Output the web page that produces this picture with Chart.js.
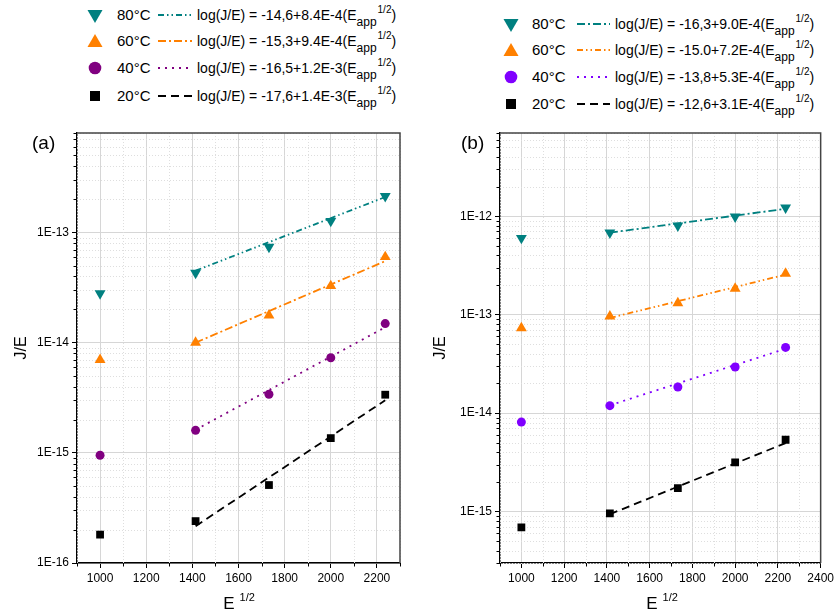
<!DOCTYPE html>
<html>
<head>
<meta charset="utf-8">
<script src="https://cdn.jsdelivr.net/npm/chart.js@4.4.0/dist/chart.umd.min.js"></script>
<style>
  body { margin: 0; background: #fff; font-family: "Liberation Sans", Arial, sans-serif; }
  #page { position: relative; width: 837px; height: 616px; overflow: hidden; background: #fff; }
  .panel { position: absolute; top: 100px; height: 516px; }
  .abs { position: absolute; white-space: nowrap; color: #000; }
  .txt { font-size: 15px; line-height: 20px; height: 20px; }
  .eq { font-size: 14px; line-height: 20px; height: 20px; }
  .sub { font-size: 12px; position: relative; top: 6px; }
  .sup { font-size: 10px; position: relative; top: -7px; margin-left: 1px; }
  .tag { font-size: 19px; line-height: 20px; }
  .xtitle { font-size: 17px; line-height: 20px; width: 100px; text-align: center; }
  .xtitle span { font-size: 11px; position: relative; top: -8px; margin-left: 5px; }
</style>
</head>
<body>
<div id="page">
  <div id="legendA"></div>
  <div id="legendB"></div>
  <div class="panel" style="left:0;width:418px;"><canvas id="chartA"></canvas></div>
  <div class="panel" style="left:418px;width:419px;"><canvas id="chartB"></canvas></div>
  <div class="abs tag" style="left:32px;top:133px;">(a)</div>
  <div class="abs tag" style="left:461px;top:133px;">(b)</div>
  <div class="abs xtitle" style="left:189px;top:594px;">E<span>1/2</span></div>
  <div class="abs xtitle" style="left:612px;top:594px;">E<span>1/2</span></div>
</div>
<script>
// valores
const xValues = [1000, 1414, 1732, 2000, 2236];
const fitX = [1414, 2236];
const seriesNames = ["80°C", "60°C", "40°C", "20°C"];

// painel (a)
const a80 = [2.8e-14, 4.3e-14, 7.4e-14, 1.27e-13, 2.14e-13];
const a60 = [7.0e-15, 1.0e-14, 1.77e-14, 3.27e-14, 6.0e-14];
const a40 = [9.5e-16, 1.6e-15, 3.4e-15, 7.3e-15, 1.49e-14];
const a20 = [1.81e-16, 2.4e-16, 5.1e-16, 1.36e-15, 3.37e-15];
const aFit80 = [4.5e-14, 2.1e-13];
const aFit60 = [1.0e-14, 5.5e-14];
const aFit40 = [1.62e-15, 1.38e-14];
const aFit20 = [2.16e-16, 3.0e-15];
const aEquations = ["-14,6+8.4E-4", "-15,3+9.4E-4", "-16,5+1.2E-3", "-17,6+1.4E-3"];
const aYTicks = [1e-16, 1e-15, 1e-14, 1e-13];
const aYLabels = ["1E-16", "1E-15", "1E-14", "1E-13"];
const aXTicks = [1000, 1200, 1400, 1600, 1800, 2000, 2200];

// painel (b)
const b80 = [6.0e-13, 6.8e-13, 8.0e-13, 9.9e-13, 1.22e-12];
const b60 = [7.3e-14, 9.6e-14, 1.31e-13, 1.84e-13, 2.61e-13];
const b40 = [8.1e-15, 1.19e-14, 1.84e-14, 2.94e-14, 4.65e-14];
const b20 = [6.9e-16, 9.6e-16, 1.73e-15, 3.15e-15, 5.36e-15];
const bFit80 = [6.8e-13, 1.19e-12];
const bFit60 = [9.25e-14, 2.55e-13];
const bFit40 = [1.2e-14, 4.5e-14];
const bFit20 = [9.4e-16, 4.96e-15];
const bEquations = ["-16,3+9.0E-4", "-15.0+7.2E-4", "-13,8+5.3E-4", "-12,6+3.1E-4"];
const bYTicks = [1e-15, 1e-14, 1e-13, 1e-12];
const bYLabels = ["1E-15", "1E-14", "1E-13", "1E-12"];
const bXTicks = [1000, 1200, 1400, 1600, 1800, 2000, 2200, 2400];

const FONT = '"Liberation Sans", Arial, sans-serif';
Chart.defaults.font.family = FONT;

const DASH = {
  dashDotDot: [6, 3, 1.5, 3, 1.5, 3],
  dashDot: [8, 3, 2, 3],
  dot: [2, 5],
  dash: [8, 5],
};
const MARKERS = [
  { style: "triangle", rotation: 180, radius: 6.3 },
  { style: "triangle", rotation: 0, radius: 6.3 },
  { style: "circle", rotation: 0, radius: 4.5 },
  { style: "rect", rotation: 0, radius: 5.5 },
];

// grade menor pontilhada, ticks menores e moldura
const frameAndMinor = {
  id: "frameAndMinor",
  beforeDatasetsDraw(chart) {
    const { ctx, chartArea: ca, scales: { x, y } } = chart;
    ctx.save();
    ctx.strokeStyle = "#dedede";
    ctx.lineWidth = 1;
    ctx.setLineDash([1, 2]);
    minorY(y).forEach((v) => {
      const p = Math.round(y.getPixelForValue(v)) + 0.5;
      ctx.beginPath(); ctx.moveTo(ca.left, p); ctx.lineTo(ca.right, p); ctx.stroke();
    });
    minorX(x).forEach((v) => {
      const p = Math.round(x.getPixelForValue(v)) + 0.5;
      ctx.beginPath(); ctx.moveTo(p, ca.top); ctx.lineTo(p, ca.bottom); ctx.stroke();
    });
    ctx.restore();
  },
  afterDraw(chart) {
    const { ctx, chartArea: ca, scales: { x, y } } = chart;
    ctx.save();
    ctx.strokeStyle = "#000";
    ctx.lineWidth = 1;
    minorY(y).forEach((v) => {
      const p = Math.round(y.getPixelForValue(v)) + 0.5;
      ctx.beginPath(); ctx.moveTo(ca.left - 3.5, p); ctx.lineTo(ca.left, p); ctx.stroke();
    });
    minorX(x).forEach((v) => {
      const p = Math.round(x.getPixelForValue(v)) + 0.5;
      ctx.beginPath(); ctx.moveTo(p, ca.bottom); ctx.lineTo(p, ca.bottom + 3.5); ctx.stroke();
    });
    ctx.strokeStyle = "#444";
    ctx.lineWidth = 1.5;
    ctx.beginPath();
    ctx.moveTo(ca.left, ca.top);
    ctx.lineTo(ca.right, ca.top);
    ctx.lineTo(ca.right, ca.bottom);
    ctx.stroke();
    ctx.restore();
  },
};

function minorY(scale) {
  const out = [];
  for (let e = Math.floor(Math.log10(scale.min)); e <= Math.floor(Math.log10(scale.max)); e++) {
    for (let m = 2; m <= 9; m++) {
      const v = m * Math.pow(10, e);
      if (v >= scale.min * 0.999 && v <= scale.max * 1.001) out.push(v);
    }
  }
  return out;
}

function minorX(scale) {
  const out = [];
  for (let v = Math.ceil(scale.min / 100) * 100; v <= scale.max; v += 100) {
    if (v % 200 !== 0) out.push(v);
  }
  return out;
}

function makeChart(canvasId, cfg) {
  const datasets = [];
  cfg.series.forEach((vals, i) => {
    datasets.push({
      label: seriesNames[i],
      data: xValues.map((x, j) => ({ x: x, y: vals[j] })),
      showLine: false,
      pointStyle: MARKERS[i].style,
      pointRotation: MARKERS[i].rotation,
      pointRadius: MARKERS[i].radius,
      pointHoverRadius: MARKERS[i].radius,
      backgroundColor: cfg.colors[i],
      borderColor: cfg.colors[i],
      pointBorderWidth: 0,
      order: 0,
    });
  });
  cfg.fits.forEach((vals, i) => {
    datasets.push({
      label: "fit " + seriesNames[i],
      data: fitX.map((x, j) => ({ x: x, y: vals[j] })),
      showLine: true,
      pointRadius: 0,
      borderColor: cfg.colors[i],
      borderWidth: 1.8,
      borderDash: cfg.dashes[i],
      fill: false,
      order: 1,
    });
  });

  new Chart(document.getElementById(canvasId), {
    type: "scatter",
    data: { datasets: datasets },
    options: {
      responsive: true,
      maintainAspectRatio: false,
      animation: false,
      layout: { padding: { top: 33, right: cfg.padRight, left: 0, bottom: 0 } },
      plugins: { legend: { display: false }, tooltip: { enabled: false } },
      scales: {
        x: {
          type: "linear",
          min: cfg.xMin,
          max: cfg.xMax,
          afterBuildTicks: (s) => { s.ticks = cfg.xTicks.map((v) => ({ value: v })); },
          afterFit: (s) => { s.height = 53; },
          grid: { color: "#d6d6d6", lineWidth: 1, drawTicks: true, tickLength: 5, tickColor: "#000", tickWidth: 1 },
          border: { color: "#000", width: 1.5 },
          ticks: {
            color: "#000", font: { size: 12 }, padding: 3,
            maxRotation: 0, autoSkip: false,
            callback: (v) => String(v),
          },
        },
        y: {
          type: "logarithmic",
          min: cfg.yMin,
          max: cfg.yMax,
          afterBuildTicks: (s) => { s.ticks = cfg.yTicks.map((v) => ({ value: v })); },
          afterFit: (s) => { s.width = cfg.yWidth; },
          grid: { color: "#d6d6d6", lineWidth: 1, drawTicks: true, tickLength: 5, tickColor: "#000", tickWidth: 1 },
          border: { color: "#000", width: 1.5 },
          ticks: {
            color: "#000", font: { size: 12 }, padding: 3, autoSkip: false,
            callback: (v, i) => cfg.yLabels[i],
          },
          title: { display: true, text: "J/E", color: "#000", font: { size: 16 }, padding: { top: cfg.titlePad, bottom: 0 } },
        },
      },
    },
    plugins: [frameAndMinor],
  });
}

function buildLegend(containerId, pos, eqs, colors, dashes, legendMarkers) {
  let html = "";
  pos.rows.forEach((cy, i) => {
    const c = colors[i];
    html += `<svg class="abs" style="left:${pos.markerX - 10}px;top:${cy - 10}px" width="20" height="20">${legendMarkers[i](c)}</svg>`;
    html += `<div class="abs txt" style="left:${pos.labelX}px;top:${cy - 10}px">${seriesNames[i]}</div>`;
    const w = pos.lineX2 - pos.lineX1;
    html += `<svg class="abs" style="left:${pos.lineX1}px;top:${cy - 2}px" width="${w}" height="4"><line x1="0" y1="2" x2="${w}" y2="2" stroke="${c}" stroke-width="1.8" stroke-dasharray="${dashes[i].join(" ")}"/></svg>`;
    html += `<div class="abs eq" style="left:${pos.eqX}px;top:${cy - 10}px">log(J/E) = ${eqs[i]}(E<span class="sub">app</span><span class="sup">1/2</span>)</div>`;
  });
  document.getElementById(containerId).innerHTML = html;
}

const legendMarkers = [
  (c) => `<polygon points="2.5,5 17.5,5 10,18" fill="${c}"/>`,
  (c) => `<polygon points="2.5,16 17.5,16 10,3" fill="${c}"/>`,
  (c) => `<circle cx="10" cy="10" r="6.3" fill="${c}"/>`,
  (c) => `<rect x="5" y="5" width="10" height="10" fill="${c}"/>`,
];

const colorsA = ["#008080", "#ff8000", "#800080", "#000000"];
const colorsB = ["#008080", "#ff8000", "#8000ff", "#000000"];
const dashesA = [DASH.dashDotDot, DASH.dashDot, DASH.dot, DASH.dash];
const dashesB = [DASH.dashDot, DASH.dashDotDot, DASH.dot, DASH.dash];

buildLegend("legendA", { rows: [15, 41, 68, 96], markerX: 95, labelX: 117, lineX1: 158, lineX2: 192, eqX: 197 },
  aEquations, colorsA, dashesA, legendMarkers);
buildLegend("legendB", { rows: [24, 50, 77, 104], markerX: 511, labelX: 532, lineX1: 577, lineX2: 610, eqX: 615 },
  bEquations, colorsB, dashesB, legendMarkers);

makeChart("chartA", {
  series: [a80, a60, a40, a20],
  fits: [aFit80, aFit60, aFit40, aFit20],
  colors: colorsA, dashes: dashesA,
  xMin: 900, xMax: 2300, xTicks: aXTicks,
  yMin: 1e-16, yMax: 8e-13, yTicks: aYTicks, yLabels: aYLabels,
  yWidth: 77, padRight: 18, titlePad: 12,
});

makeChart("chartB", {
  series: [b80, b60, b40, b20],
  fits: [bFit80, bFit60, bFit40, bFit20],
  colors: colorsB, dashes: dashesB,
  xMin: 900, xMax: 2400, xTicks: bXTicks,
  yMin: 3e-16, yMax: 7e-12, yTicks: bYTicks, yLabels: bYLabels,
  yWidth: 82, padRight: 14, titlePad: 13,
});
</script>
</body>
</html>
